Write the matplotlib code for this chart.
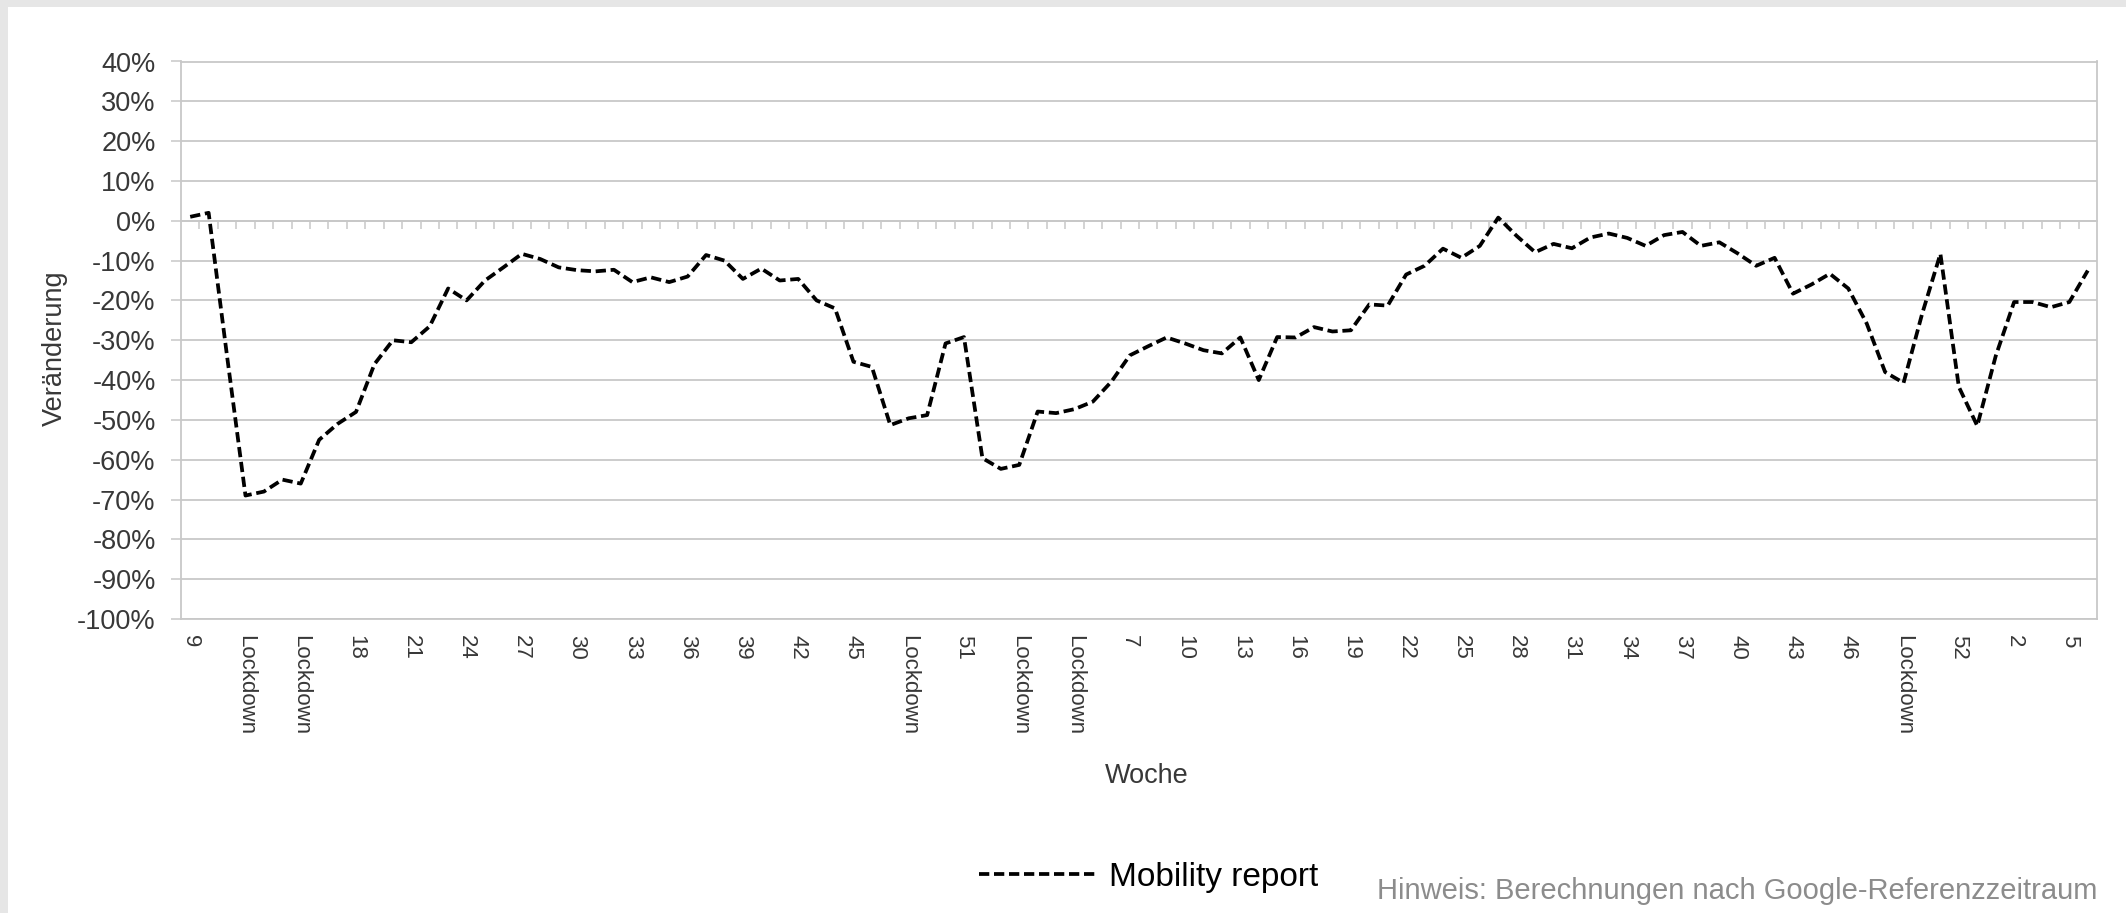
import numpy as np
import matplotlib
matplotlib.use('Agg')
import matplotlib.pyplot as plt
from matplotlib.patches import Rectangle

# Mobility report, weekly change vs. Google reference period (percent)
values = [1, 2, -34, -69, -68, -65, -66, -55, -51, -48,
          -36, -30, -30.5, -26.5, -17, -20, -15, -11.7, -8.3, -9.6,
          -11.7, -12.4, -12.7, -12.3, -15.4, -14.2, -15.4, -14, -8.6, -10,
          -14.6, -12, -15, -14.6, -20, -22, -35.4, -36.7, -51.3, -49.6,
          -48.8, -30.8, -29.2, -59.6, -62.3, -61.3, -47.9, -48.3, -47.3, -45.4,
          -40.4, -33.8, -31.5, -29.3, -30.8, -32.5, -33.3, -29.3, -40, -29.2,
          -29.3, -26.7, -27.8, -27.5, -21, -21.3, -13.5, -11.3, -7, -9.3,
          -6.3, 0.8, -3.8, -7.9, -5.8, -6.9, -4.2, -3.2, -4.3, -6.3,
          -3.6, -2.8, -6.3, -5.4, -8.2, -11.3, -9.3, -18.3, -16, -13.3,
          -17, -25.8, -38, -40.7, -23.5, -8.3, -41.7, -51.5, -34, -20.4,
          -20.4, -21.7, -20.4, -12.5]

# every third week gets a label
tick_labels = ["9", "Lockdown", "Lockdown", "18", "21", "24", "27", "30", "33",
               "36", "39", "42", "45", "Lockdown", "51", "Lockdown", "Lockdown",
               "7", "10", "13", "16", "19", "22", "25", "28", "31", "34", "37",
               "40", "43", "46", "Lockdown", "52", "2", "5"]
y_ticks = list(range(-100, 41, 10))

W, H = 2126, 913
plt.rcParams['font.family'] = ['Liberation Sans', 'DejaVu Sans']
plt.rcParams['lines.scale_dashes'] = False
grid_c = '#c8c8c8'
text_c = '#383838'

fig = plt.figure(figsize=(W / 100, H / 100), dpi=100)
fig.patch.set_facecolor('#e6e6e6')
fig.add_artist(Rectangle((8 / W, 0), 1, (H - 7) / H, transform=fig.transFigure,
                         facecolor='white', edgecolor='none', zorder=-10))

ax = fig.add_axes([181 / W, 1 - 619 / H, 1916 / W, 557.5 / H])
x = np.arange(len(values))
line, = ax.plot(x, values, color='black', lw=2.7, dashes=(7.4, 3.4),
                dash_capstyle='butt', zorder=5)

ax.set_xlim(-0.5, len(values) - 0.5)
ax.set_ylim(-100, 40)
ax.set_yticks(y_ticks)
ax.set_yticklabels(['%d%%' % v for v in y_ticks])
ax.set_xticks(x[::3])
ax.set_xticklabels(tick_labels, rotation=270, ha='center', va='top')

ax.yaxis.grid(True, color=grid_c, lw=1.3)
ax.set_axisbelow(True)
for s in ax.spines.values():
    s.set_color(grid_c)
    s.set_linewidth(1.3)

ax.tick_params(axis='y', direction='out', length=7.2, width=1.1, color=grid_c,
               labelsize=19.5, labelcolor=text_c, pad=11)
ax.tick_params(axis='x', length=0, labelsize=16, labelcolor=text_c, pad=11.5)

# category axis crossing at 0 %, tick marks between the weeks
sec = ax.secondary_xaxis(100 / 140)
sec.set_xticks(x[:-1] + 0.5)
sec.set_xticklabels([])
sec.tick_params(direction='in', length=5.8, width=1.1, color=grid_c)
for s in sec.spines.values():
    s.set_color(grid_c)
    s.set_linewidth(1.3)

ax.set_xlabel('Woche', fontsize=19.5, color=text_c)
ax.xaxis.set_label_coords((1147 - 181) / 1916, (619 - 776) / 557.5)
ax.xaxis.label.set_va('center')
ax.set_ylabel('Veränderung', fontsize=19.5, color=text_c)
ax.yaxis.set_label_coords((55 - 181) / 1916, (619 - 348) / 557.5)
ax.yaxis.label.set_va('center')

fig.legend([line], ['Mobility report'], loc='center left',
           bbox_to_anchor=(979 / W, 1 - 877 / H), frameon=False,
           borderpad=0, borderaxespad=0, handlelength=3.53,
           handletextpad=0.36, fontsize=24)

fig.text(2097 / W, 1 - 899 / H, 'Hinweis: Berechnungen nach Google-Referenzzeitraum',
         ha='right', va='baseline', fontsize=21, color='#8c8c8c')

fig.savefig('out.png', dpi=100, facecolor=fig.get_facecolor())
